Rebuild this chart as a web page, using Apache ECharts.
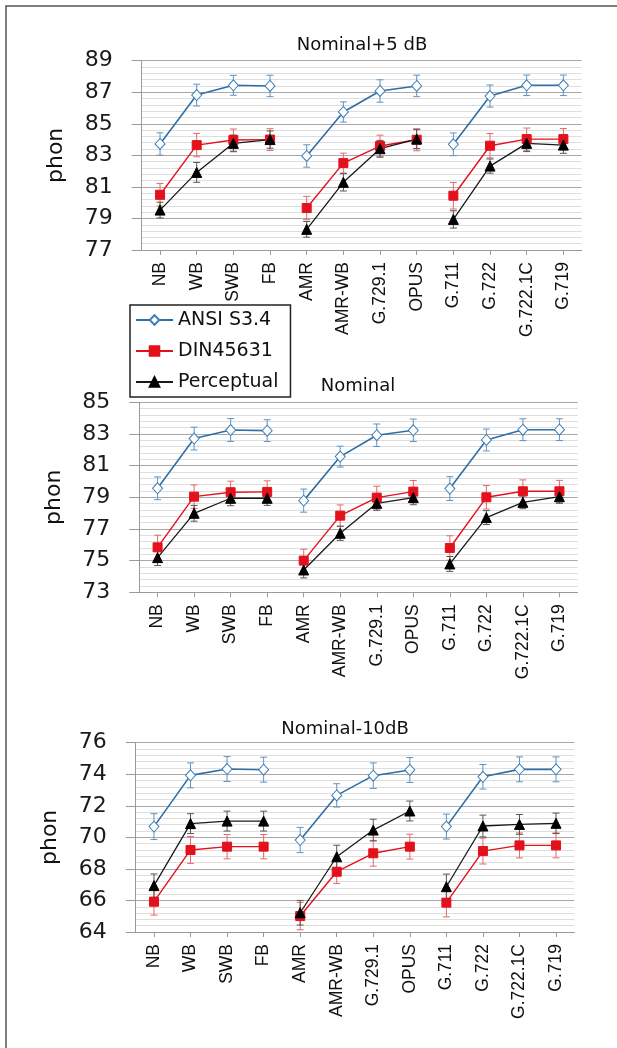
<!DOCTYPE html>
<html><head><meta charset="utf-8">
<script src="https://cdn.jsdelivr.net/npm/echarts@6/dist/echarts.min.js"></script>
<style>html,body{margin:0;padding:0;background:#fff}#c{width:617px;height:1048px}</style>
</head><body><div id="c"></div>
<script>
// ---------------- data ----------------
const categories = ['NB','WB','SWB','FB','AMR','AMR-WB','G.729.1','OPUS','G.711','G.722','G.722.1C','G.719'];
const groups = [[0,3],[4,7],[8,11]];
const seriesNames = ['ANSI S3.4','DIN45631','Perceptual'];
const panelTitles = ['Nominal+5 dB','Nominal','Nominal-10dB'];
const yAxisName = 'phon';
const yMins = [77, 73, 64];
const yMaxs = [89, 85, 76];

// Panel 1: Nominal+5 dB
const ansi1    = [83.72, 86.82, 87.44, 87.40, 82.96, 85.75, 87.08, 87.40, 83.70, 86.76, 87.44, 87.44];
const ansiErr1 = [0.71, 0.69, 0.63, 0.68, 0.71, 0.64, 0.71, 0.68, 0.72, 0.70, 0.65, 0.65];
const din1     = [80.50, 83.65, 83.97, 84.00, 79.66, 82.51, 83.59, 83.99, 80.44, 83.61, 84.03, 84.03];
const dinErr1  = [0.72, 0.74, 0.70, 0.69, 0.74, 0.63, 0.69, 0.70, 0.84, 0.77, 0.70, 0.67];
const perc1    = [79.53, 81.92, 83.76, 84.00, 78.31, 81.29, 83.42, 84.03, 78.94, 82.32, 83.76, 83.65];
const percErr1 = [0.50, 0.63, 0.53, 0.55, 0.50, 0.55, 0.53, 0.60, 0.55, 0.45, 0.52, 0.52];

// Panel 2: Nominal
const ansi2    = [79.57, 82.71, 83.25, 83.21, 78.79, 81.57, 82.92, 83.23, 79.55, 82.62, 83.27, 83.27];
const ansiErr2 = [0.72, 0.72, 0.72, 0.69, 0.73, 0.66, 0.71, 0.71, 0.75, 0.69, 0.69, 0.69];
const din2     = [75.84, 79.04, 79.32, 79.34, 75.00, 77.84, 78.98, 79.36, 75.80, 79.00, 79.38, 79.38];
const dinErr2  = [0.77, 0.74, 0.70, 0.70, 0.72, 0.68, 0.72, 0.70, 0.77, 0.74, 0.72, 0.69];
const perc2    = [75.19, 77.99, 78.94, 78.94, 74.41, 76.73, 78.62, 78.98, 74.79, 77.72, 78.68, 79.04];
const percErr2 = [0.50, 0.50, 0.47, 0.45, 0.50, 0.45, 0.44, 0.45, 0.47, 0.44, 0.40, 0.42];

// Panel 3: Nominal-10dB
const ansi3    = [70.68, 73.93, 74.33, 74.29, 69.83, 72.66, 73.91, 74.27, 70.68, 73.84, 74.31, 74.31];
const ansiErr3 = [0.82, 0.79, 0.79, 0.79, 0.80, 0.74, 0.81, 0.79, 0.79, 0.78, 0.79, 0.79];
const din3     = [65.92, 69.20, 69.41, 69.41, 65.01, 67.82, 68.99, 69.41, 65.86, 69.13, 69.49, 69.49];
const dinErr3  = [0.85, 0.85, 0.77, 0.77, 0.87, 0.74, 0.82, 0.79, 0.90, 0.82, 0.79, 0.79];
const perc3    = [66.94, 70.87, 71.03, 71.03, 65.22, 68.77, 70.46, 71.67, 66.87, 70.72, 70.82, 70.89];
const percErr3 = [0.74, 0.63, 0.63, 0.63, 0.78, 0.73, 0.69, 0.63, 0.80, 0.69, 0.63, 0.65];

// ---------------- layout / style ----------------
const panelData = [
  {vals:[ansi1,din1,perc1], errs:[ansiErr1,dinErr1,percErr1]},
  {vals:[ansi2,din2,perc2], errs:[ansiErr2,dinErr2,percErr2]},
  {vals:[ansi3,din3,perc3], errs:[ansiErr3,dinErr3,percErr3]}
];
const grids = [
  {left:141.7, right:35.3, top:60.7, height:189.3},
  {left:139.3, right:39.3, top:402.3, height:190},
  {left:135.7, right:42.7, top:742.7, height:189.3}
];
const titlePos = [[362, 36],[358, 377],[345, 720]];
const styles = [
  {symbol:'diamond', size:[10,11], line:'#2f6ea6', fill:'#ffffff', border:'#3f7fb5', err:'#5f93c2', lw:1.6},
  {symbol:'rect', size:9, line:'#e3111c', fill:'#e3111c', border:'#e3111c', err:'#e26a6a', lw:1.4},
  {symbol:'triangle', size:10, line:'#1a1a1a', fill:'#000000', border:'#000000', err:'#555555', lw:1.3}
];
const FONT = 'DejaVu Sans';

function errRender(color){
  return function(params, api){
    const x = api.value(0), lo = api.value(1), hi = api.value(2);
    const a = api.coord([x, lo]), b = api.coord([x, hi]);
    const w = 3.5, st = {stroke: color, lineWidth: 1};
    return {type:'group', children:[
      {type:'line', shape:{x1:a[0], y1:a[1], x2:b[0], y2:b[1]}, style:st},
      {type:'line', shape:{x1:a[0]-w, y1:a[1], x2:a[0]+w, y2:a[1]}, style:st},
      {type:'line', shape:{x1:b[0]-w, y1:b[1], x2:b[0]+w, y2:b[1]}, style:st}
    ]};
  };
}

const grid = [], xAxis = [], yAxis = [], series = [], graphic = [];
panelData.forEach((p, pi) => {
  grid.push(Object.assign({containLabel:false}, grids[pi]));
  xAxis.push({
    type:'category', gridIndex:pi, data:categories, boundaryGap:true,
    axisLine:{show:true, lineStyle:{color:'#9a9a9a', width:1}},
    axisTick:{show:true, alignWithLabel:true, length:5, lineStyle:{color:'#9a9a9a'}},
    axisLabel:{rotate:90, interval:0, fontSize:17.5, fontFamily:'Liberation Sans', color:'#111', margin:12},
    splitLine:{show:false}
  });
  yAxis.push({
    type:'value', gridIndex:pi, min:yMins[pi], max:yMaxs[pi], interval:2,
    name:yAxisName, nameLocation:'middle', nameGap:74, nameRotate:90,
    nameTextStyle:{fontSize:22, fontFamily:FONT, color:'#111'},
    axisLine:{show:true, lineStyle:{color:'#9a9a9a'}},
    axisTick:{show:true, length:10, lineStyle:{color:'#9a9a9a'}},
    axisLabel:{fontSize:22, fontFamily:FONT, color:'#1a1a1a', margin:29},
    splitLine:{show:true, lineStyle:{color:'#a9a9a9', width:1}},
    minorTick:{show:false, splitNumber:5},
    minorSplitLine:{show:true, lineStyle:{color:'#dedede', width:1}}
  });
  p.vals.forEach((vals, si) => {
    const s = styles[si];
    series.push({
      type:'custom', name:'err'+pi+'_'+si, xAxisIndex:pi, yAxisIndex:pi, z:1,
      renderItem: errRender(s.err), encode:{x:0, y:[1,2]},
      data: vals.map((v,i) => [i, v - p.errs[si][i], v + p.errs[si][i]]),
      silent:true
    });
    groups.forEach(g => {
      series.push({
        type:'line', name:seriesNames[si], xAxisIndex:pi, yAxisIndex:pi, z:3,
        symbol:s.symbol, symbolSize:s.size, showAllSymbol:true,
        lineStyle:{color:s.line, width:s.lw},
        itemStyle:{color:s.fill, borderColor:s.border, borderWidth:1},
        data: vals.map((v,i) => (i>=g[0] && i<=g[1]) ? v : '-'),
        connectNulls:false, animation:false
      });
    });
  });
  graphic.push({
    type:'text', x:titlePos[pi][0], y:titlePos[pi][1],
    style:{text:panelTitles[pi], font:'18px "'+FONT+'"', fill:'#111', textAlign:'center', textVerticalAlign:'top'}
  });
});
// outer frame (left and top edges)
graphic.push({type:'polyline', shape:{points:[[6,1100],[6,6],[700,6]]}, style:{fill:null, stroke:'#555', lineWidth:1.5}, z:-1});

const chart = echarts.init(document.getElementById('c'));
chart.setOption({
  animation:false,
  backgroundColor:'#fff',
  grid, xAxis, yAxis, series, graphic,
  legend:{
    data:seriesNames, orient:'vertical', left:130, top:305,
    itemWidth:37, itemHeight:12, itemGap:11,
    padding:[5,12,5,5],
    borderColor:'#222', borderWidth:1.5, backgroundColor:'#fff',
    textStyle:{fontSize:19, fontFamily:FONT, color:'#111', lineHeight:20},
    selectedMode:false, z:10
  }
});
</script>
</body></html>
